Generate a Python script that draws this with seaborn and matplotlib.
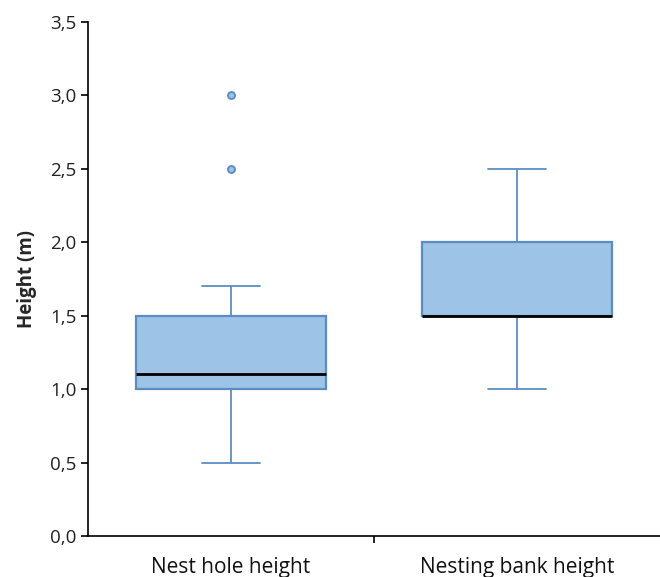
import numpy as np
import pandas as pd
import seaborn as sns
import matplotlib
matplotlib.use("Agg")
import matplotlib.pyplot as plt
from matplotlib.ticker import FuncFormatter, FixedLocator

categories = ["Nest hole height", "Nesting bank height"]
nest_hole = [0.5, 1.0, 1.0, 1.0, 1.0, 1.1, 1.1, 1.2, 1.5, 1.5, 1.7, 2.5, 3.0]
nesting_bank = [1.0, 1.5, 1.5, 1.5, 1.5, 1.5, 1.5, 1.8, 2.0, 2.0, 2.0, 2.2, 2.5]
y_ticks = [0.0, 0.5, 1.0, 1.5, 2.0, 2.5, 3.0, 3.5]

df = pd.DataFrame({
    "cat": [categories[0]] * len(nest_hole) + [categories[1]] * len(nesting_bank),
    "val": nest_hole + nesting_bank,
})

sns.set_theme(style="white")
plt.rcParams["font.family"] = ["Open Sans", "DejaVu Sans"]

fill = "#9DC3E6"
edge = "#5B8DC4"

fig = plt.figure(figsize=(6.6, 5.77), dpi=100)
ax = fig.add_axes([0.1333, 0.0711, 0.8667, 0.8908])

sns.boxplot(
    data=df, x="cat", y="val", order=categories, ax=ax,
    width=0.667, whis=1.5,
    boxprops=dict(facecolor=fill, edgecolor=edge, linewidth=1.6),
    whiskerprops=dict(color=edge, linewidth=1.3),
    capprops=dict(color=edge, linewidth=1.3),
    medianprops=dict(color="black", linewidth=2.0),
    flierprops=dict(marker="o", markerfacecolor=fill, markeredgecolor=edge,
                    markersize=5, markeredgewidth=1.4),
    capwidths=0.2,
)

ax.set_xlim(-0.5, 1.5)
ax.set_ylim(0, 3.5)
ax.yaxis.set_major_locator(FixedLocator(y_ticks))
ax.yaxis.set_major_formatter(FuncFormatter(lambda v, p: f"{v:.1f}".replace(".", ",")))
ax.set_xlabel("")
ax.set_ylabel("Height (m)", fontsize=13.5, fontweight="bold", labelpad=10)

for s in ["top", "right"]:
    ax.spines[s].set_visible(False)
for s in ["left", "bottom"]:
    ax.spines[s].set_color("black")
    ax.spines[s].set_linewidth(1.2)

ax.tick_params(axis="y", which="major", left=True, length=5, width=1.2,
               color="black", labelsize=13.5, pad=3, labelcolor="#222222")
ax.tick_params(axis="x", which="major", bottom=False, labelsize=15,
               pad=9, labelcolor="#111111")
ax.xaxis.set_minor_locator(FixedLocator([0.5]))
ax.tick_params(axis="x", which="minor", bottom=True, length=5, width=1.2, color="black")

fig.savefig("out.png", dpi=100)
